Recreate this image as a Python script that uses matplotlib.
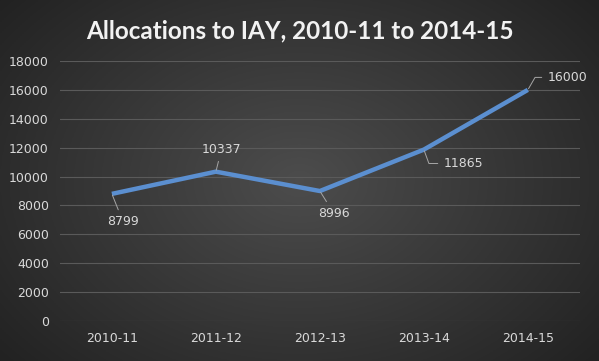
import matplotlib.pyplot as plt
import numpy as np

years = ['2010-11', '2011-12', '2012-13', '2013-14', '2014-15']
allocations = [8799, 10337, 8996, 11865, 16000]
# label offsets in points (dx, dy) relative to each point
label_offsets = [(8, -20), (4, 16), (10, -16), (14, -10), (14, 9)]
leader_styles = ['arc3', 'arc3', 'arc3',
                 'angle,angleA=0,angleB=110,rad=0',
                 'angle,angleA=0,angleB=60,rad=0']
yticks = list(range(0, 18001, 2000))

fig = plt.figure(figsize=(5.99, 3.61), dpi=100)

# radial-ish dark gradient background
bg = fig.add_axes([0, 0, 1, 1])
xx, yy = np.meshgrid(np.linspace(-1, 1, 300), np.linspace(-1, 1, 200))
r = np.sqrt((xx / 1.1) ** 2 + (yy / 1.3) ** 2)
shade = 0.30 - 0.14 * np.clip(r, 0, 1.2)
bg.imshow(np.dstack([shade, shade, shade]), aspect='auto', extent=[0, 1, 0, 1])
bg.axis('off')

ax = fig.add_axes([0.1, 0.111, 0.868, 0.72])
ax.patch.set_alpha(0)
x = np.arange(len(years))
ax.plot(x, allocations, color='#5b8fd0', lw=3.2, solid_capstyle='butt', zorder=3)

for i, v in enumerate(allocations):
    dx, dy = label_offsets[i]
    ax.annotate(str(v), (x[i], v), xytext=(dx, dy), textcoords='offset points',
                color='#d9d9d9', fontsize=9, ha='left' if dx > 12 else 'center',
                va='center',
                arrowprops=dict(arrowstyle='-', color='#a6a6a6', lw=0.7,
                                shrinkA=2, shrinkB=1,
                                connectionstyle=leader_styles[i]))

ax.set_xlim(-0.5, len(years) - 0.5)
ax.set_ylim(0, 18000)
ax.set_yticks(yticks)
ax.set_xticks(x)
ax.set_xticklabels(years)
ax.tick_params(colors='#d9d9d9', labelsize=9, length=0, pad=8)
ax.grid(axis='y', color='#5a5a5a', lw=0.8)
for s in ax.spines.values():
    s.set_visible(False)

fig.text(0.5, 0.915, 'Allocations to IAY, 2010-11 to 2014-15', ha='center', va='center',
         color='#f2f2f2', fontsize=17.5, fontweight='bold', family='Lato')

fig.savefig('out.png', dpi=100)
